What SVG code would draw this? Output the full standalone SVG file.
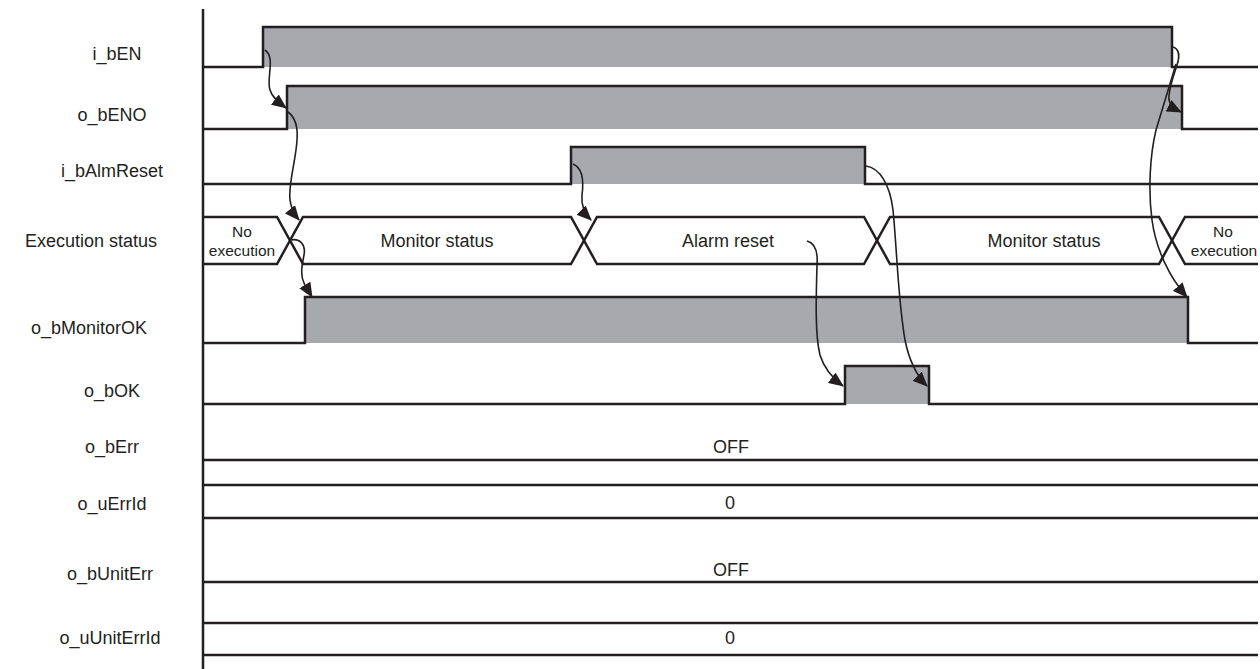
<svg xmlns="http://www.w3.org/2000/svg" width="1260" height="669" viewBox="0 0 1260 669">
<style>
.lbl{font-family:"Liberation Sans",Arial,sans-serif;font-size:18px;fill:#231f20;text-anchor:middle}
.st{font-family:"Liberation Sans",Arial,sans-serif;font-size:18px;fill:#231f20;text-anchor:middle}
.sm{font-family:"Liberation Sans",Arial,sans-serif;font-size:15.5px;fill:#231f20;text-anchor:middle}
.sig{fill:none;stroke:#231f20;stroke-width:2.5;stroke-linejoin:miter}
.fill{fill:#a7a9ac;stroke:none}
.arr{fill:none;stroke:#231f20;stroke-width:1.6;marker-end:url(#ah)}
</style>
<defs>
<marker id="ah" markerUnits="userSpaceOnUse" markerWidth="15" markerHeight="13" refX="14" refY="6.5" orient="auto">
<path d="M0,0 L15,6.5 L0,13 Z" fill="#231f20"/>
</marker>
</defs>
<rect width="1260" height="669" fill="#ffffff"/>
<g id="axis"><line x1="203" y1="9" x2="203" y2="669" stroke="#231f20" stroke-width="2.5"/></g>

<g id="i_bEN">
<text class="lbl" x="117" y="60">i_bEN</text>
<rect class="fill" x="263" y="27" width="909" height="40"/>
<path class="sig" d="M203,67 H263 V27 H1172 V67 H1258"/>
</g>
<g id="o_bENO">
<text class="lbl" x="112" y="121">o_bENO</text>
<rect class="fill" x="287" y="86" width="895" height="43"/>
<path class="sig" d="M203,129 H287 V86 H1182 V129 H1258"/>
</g>
<g id="i_bAlmReset">
<text class="lbl" x="112" y="177">i_bAlmReset</text>
<rect class="fill" x="571" y="147" width="294" height="37"/>
<path class="sig" d="M203,184 H571 V147 H865 V184 H1258"/>
</g>
<g id="execution_status">
<text class="lbl" x="91" y="247">Execution status</text>
<path class="sig" d="M203,217 H277 L303,264 H571 L597,217 H864 L890,264 H1159 L1185,217 H1258"/>
<path class="sig" d="M203,264 H277 L303,217 H571 L597,264 H864 L890,217 H1159 L1185,264 H1258"/>
<text class="sm" x="242" y="237">No</text>
<text class="sm" x="242" y="256">execution</text>
<text class="st" x="437" y="247">Monitor status</text>
<text class="st" x="728" y="247">Alarm reset</text>
<text class="st" x="1044" y="247">Monitor status</text>
<text class="sm" x="1223" y="237">No</text>
<text class="sm" x="1224" y="256">execution</text>
</g>
<g id="o_bMonitorOK">
<text class="lbl" x="89" y="334">o_bMonitorOK</text>
<rect class="fill" x="305" y="297" width="883" height="46"/>
<path class="sig" d="M203,343 H305 V297 H1188 V343 H1258"/>
</g>
<g id="o_bOK">
<text class="lbl" x="112" y="397">o_bOK</text>
<rect class="fill" x="845" y="366" width="84" height="38"/>
<path class="sig" d="M203,404 H845 V366 H929 V404 H1258"/>
</g>
<g id="o_bErr">
<text class="lbl" x="112" y="453">o_bErr</text>
<text class="st" x="731" y="453">OFF</text>
<path class="sig" d="M203,460 H1258"/>
</g>
<g id="o_uErrId">
<text class="lbl" x="112" y="510">o_uErrId</text>
<path class="sig" d="M203,485 H1258 M203,518 H1258"/>
<text class="st" x="730" y="509">0</text>
</g>
<g id="o_bUnitErr">
<text class="lbl" x="110" y="580">o_bUnitErr</text>
<text class="st" x="731" y="576">OFF</text>
<path class="sig" d="M203,582 H1258"/>
</g>
<g id="o_uUnitErrId">
<text class="lbl" x="110" y="644">o_uUnitErrId</text>
<path class="sig" d="M203,623 H1258 M203,655 H1258"/>
<text class="st" x="730" y="644">0</text>
</g>

<g id="connectors">
<path class="arr" d="M265,50 C276,58 266,78 270,90 C272,97 278,102 286,108"/>
<path class="arr" d="M288,112 C296,118 298,128 297,140 C296,160 288,185 290,200 C291,208 294,214 299,220"/>
<path class="arr" d="M291,240 C300,238 306,245 304,255 C302,265 300,275 304,283 C306,288 309,292 312,297"/>
<path class="arr" d="M573,164 C583,168 584,180 582,195 C581,205 584,213 591,220"/>
<path class="arr" d="M807,241 C815,243 818,252 817,265 C816,300 815,335 820,355 C824,368 832,378 843,386"/>
<path class="arr" d="M866,166 C880,168 890,185 893,210 C897,250 898,300 905,340 C909,360 916,375 927,386"/>
<path class="arr" d="M1173,47 C1179,49 1180,56 1177,65 C1174,75 1168,90 1169,100 C1170,105 1175,109 1181,112"/>
<path class="arr" d="M1176,64 L1156,130 C1150,155 1148,190 1152,220 C1156,250 1170,278 1187,297"/>
</g>
</svg>
